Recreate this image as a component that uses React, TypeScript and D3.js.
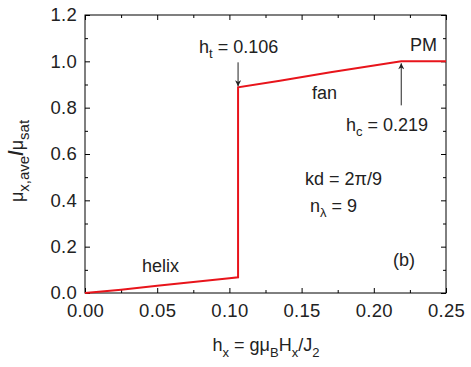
import React, { useEffect, useRef } from "react"
import * as d3 from "d3"

// magnetization curve
const hx = [0, 0.025, 0.05, 0.075, 0.1, 0.106, 0.106, 0.135, 0.17, 0.219, 0.25]
const mu = [0, 0.014, 0.031, 0.047, 0.064, 0.068, 0.888, 0.916, 0.953, 1.0, 1.0]
const xTicks = [0, 0.05, 0.1, 0.15, 0.2, 0.25]
const yTicks = [0, 0.2, 0.4, 0.6, 0.8, 1.0, 1.2]
const xMinor = [0.025, 0.075, 0.125, 0.175, 0.225]
const yMinor = [0.1, 0.3, 0.5, 0.7, 0.9, 1.1]

const W = 471, H = 367
const m = { left: 85, right: 25, top: 15, bottom: 74 }
const font = "'Liberation Sans', Arial, sans-serif"

export default function App() {
  const ref = useRef<SVGGElement>(null)

  useEffect(() => {
    const svg = d3.select(ref.current)
    svg.selectAll("*").remove()

    const x = d3.scaleLinear().domain([0, 0.25]).range([m.left, W - m.right])
    const y = d3.scaleLinear().domain([0, 1.2]).range([H - m.bottom, m.top])

    // frame
    svg.append("rect")
      .attr("x", m.left).attr("y", m.top)
      .attr("width", W - m.left - m.right).attr("height", H - m.top - m.bottom)
      .attr("fill", "none").attr("stroke", "#000").attr("stroke-width", 1)

    const styleAxis = (g: any) => {
      g.select(".domain").remove()
      g.selectAll("line").attr("stroke", "#000")
      g.selectAll("text").attr("font-family", font).attr("font-size", 18.5)
        .attr("letter-spacing", 0.3).attr("fill", "#222")
    }

    // bottom axis with labels
    svg.append("g").attr("transform", `translate(0,${H - m.bottom})`)
      .call(d3.axisBottom(x).tickValues(xTicks).tickSize(-5).tickPadding(11).tickFormat(d3.format(".2f")))
      .call(styleAxis)
    svg.append("g").attr("transform", `translate(0,${H - m.bottom})`)
      .call(d3.axisBottom(x).tickValues(xMinor).tickSize(-3).tickFormat(() => ""))
      .call(styleAxis)
    // top
    svg.append("g").attr("transform", `translate(0,${m.top})`)
      .call(d3.axisTop(x).tickValues(xTicks).tickSize(-5).tickFormat(() => ""))
      .call(styleAxis)
    svg.append("g").attr("transform", `translate(0,${m.top})`)
      .call(d3.axisTop(x).tickValues(xMinor).tickSize(-3).tickFormat(() => ""))
      .call(styleAxis)
    // left
    svg.append("g").attr("transform", `translate(${m.left},0)`)
      .call(d3.axisLeft(y).tickValues(yTicks).tickSize(-5).tickPadding(8).tickFormat(d3.format(".1f")))
      .call(styleAxis)
    svg.append("g").attr("transform", `translate(${m.left},0)`)
      .call(d3.axisLeft(y).tickValues(yMinor).tickSize(-3).tickFormat(() => ""))
      .call(styleAxis)
    // right
    svg.append("g").attr("transform", `translate(${W - m.right},0)`)
      .call(d3.axisRight(y).tickValues(yTicks).tickSize(-5).tickFormat(() => ""))
      .call(styleAxis)
    svg.append("g").attr("transform", `translate(${W - m.right},0)`)
      .call(d3.axisRight(y).tickValues(yMinor).tickSize(-3).tickFormat(() => ""))
      .call(styleAxis)

    // curve
    const line = d3.line<number>().x((d, i) => x(hx[i])).y(d => y(d))
    svg.append("path").datum(mu)
      .attr("d", line)
      .attr("fill", "none").attr("stroke", "#e8141b").attr("stroke-width", 2)

    // arrows
    const defs = svg.append("defs")
    defs.append("marker").attr("id", "ah")
      .attr("viewBox", "0 0 10 10").attr("refX", 10).attr("refY", 5)
      .attr("markerWidth", 8).attr("markerHeight", 6).attr("orient", "auto")
      .attr("markerUnits", "userSpaceOnUse")
      .append("path").attr("d", "M0,0L10,5L0,10L3,5Z").attr("fill", "#222")

    svg.append("line")
      .attr("x1", x(0.106)).attr("x2", x(0.106))
      .attr("y1", y(1.0) + 1).attr("y2", y(0.888) - 1)
      .attr("stroke", "#222").attr("stroke-width", 1).attr("marker-end", "url(#ah)")
    svg.append("line")
      .attr("x1", x(0.219)).attr("x2", x(0.219))
      .attr("y1", y(0.81)).attr("y2", y(1.0) + 2)
      .attr("stroke", "#222").attr("stroke-width", 1).attr("marker-end", "url(#ah)")
  }, [])

  const t = { fontFamily: font, fontSize: 18, fill: "#222" }
  const sub = { fontSize: 13 }
  const ysub = { fontSize: 15 }

  return (
    <svg width={W} height={H} style={{ position: "absolute", left: 0, top: 0 }}>
      <g ref={ref} />
      {/* annotations */}
      <text x={199} y={53} style={t}>h<tspan dy={5} style={sub}>t</tspan><tspan dy={-5}> = 0.106</tspan></text>
      <text x={410} y={51} style={t}>PM</text>
      <text x={312} y={99} style={t}>fan</text>
      <text x={346} y={131} style={t}>h<tspan dy={5} style={sub}>c</tspan><tspan dy={-5}> = 0.219</tspan></text>
      <text x={305} y={185} style={t}>kd = 2π/9</text>
      <text x={310} y={212} style={t}>n<tspan dy={5} style={sub}>λ</tspan><tspan dy={-5}> = 9</tspan></text>
      <text x={393} y={266} style={t}>(b)</text>
      <text x={142} y={272} style={t}>helix</text>
      {/* axis titles */}
      <text x={266} y={351} textAnchor="middle" style={t}>
        h<tspan dy={6} style={sub}>x</tspan><tspan dy={-6}> = gμ</tspan><tspan dy={6} style={sub}>B</tspan>
        <tspan dy={-6}>H</tspan><tspan dy={6} style={sub}>x</tspan><tspan dy={-6}>/J</tspan><tspan dy={6} style={sub}>2</tspan>
      </text>
      <text transform="translate(23,161) rotate(-90)" textAnchor="middle" style={t}>
        μ<tspan dy={6} style={ysub}>x,ave</tspan><tspan dy={-6} style={{ fontSize: 20, fontWeight: "bold" }}>/</tspan>μ<tspan dy={6} style={ysub}>sat</tspan>
      </text>
    </svg>
  )
}
